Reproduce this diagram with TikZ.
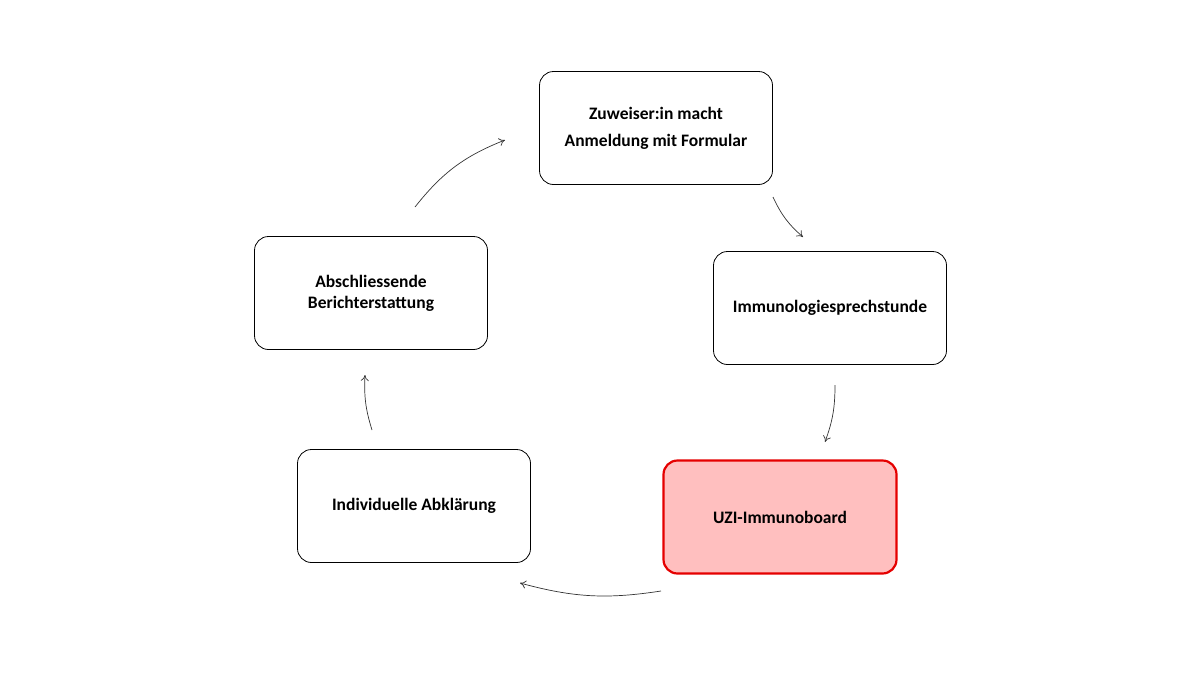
\documentclass[tikz,border=0pt]{standalone}
\usepackage{fontspec}
\setmainfont{Carlito}
\usetikzlibrary{arrows.meta}
\begin{document}
\begin{tikzpicture}[x=1pt,y=-1pt,
  box/.style={draw=black,line width=0.8pt,rounded corners=14pt,minimum width=233pt,minimum height=113pt,align=center,font=\bfseries\fontsize{17.5}{21}\selectfont,fill=white},
  hot/.style={box,draw=red!90!black,line width=2.2pt,fill=red!25},
  conn/.style={draw=black!80,line width=0.7pt,-{To[length=6pt,width=8pt]}}]
\useasboundingbox (0,0) rectangle (1200,675);
\node[box,font=\bfseries\fontsize{17.5}{27}\selectfont] (a) at (656,128) {Zuweiser:in macht\\Anmeldung mit Formular};
\node[box] (b) at (830,308) {Immunologiesprechstunde};
\node[hot] (c) at (780,517) {UZI-Immunoboard};
\node[box] (d) at (414,506) {Individuelle Abklärung};
\node[box] (e) at (371,293) {Abschliessende\\Berichterstattung};
\coordinate (p1) at (415,207); \coordinate (q1) at (505,140);
\coordinate (p2) at (773,197); \coordinate (q2) at (803,237);
\coordinate (p3) at (835,385); \coordinate (q3) at (825,442);
\coordinate (p4) at (661,591); \coordinate (q4) at (520,583);
\coordinate (p5) at (372,430); \coordinate (q5) at (365,375);
\draw[conn] (p1) to[bend left=15] (q1);
\draw[conn] (p2) to[bend right=12] (q2);
\draw[conn] (p3) to[bend left=10] (q3);
\draw[conn] (p4) to[bend left=12] (q4);
\draw[conn] (p5) to[bend left=10] (q5);
\end{tikzpicture}
\end{document}
